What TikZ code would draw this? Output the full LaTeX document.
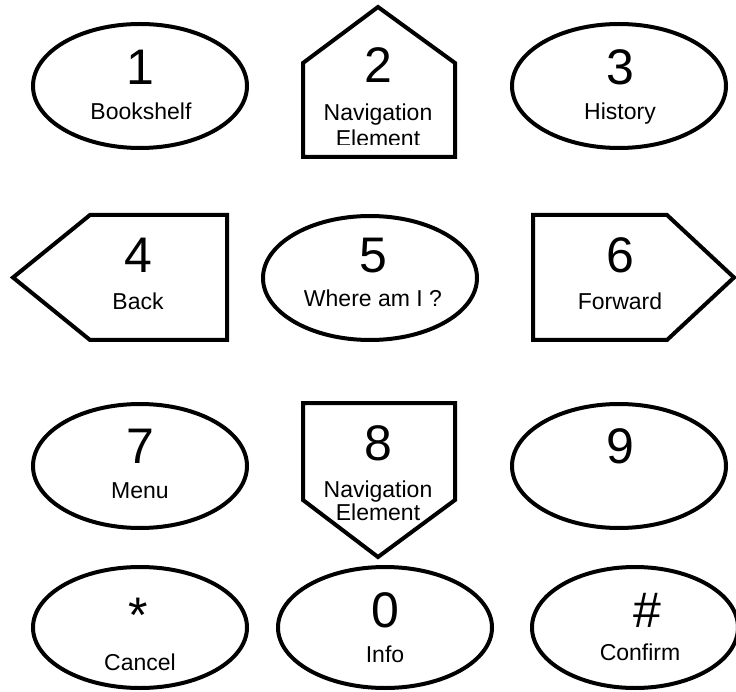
\documentclass[tikz,border=0pt]{standalone}
\usepackage{fontspec}
\setmainfont{Liberation Sans}
\usetikzlibrary{shapes.geometric}
\tikzset{
  keyoval/.style={ellipse, draw=black, line width=4pt, fill=white, inner sep=0pt, minimum width=214pt, minimum height=124pt},
  keyshape/.style={draw=black, line width=4pt, fill=white, line join=miter},
  digit/.style={anchor=base, inner sep=0pt, font=\fontsize{50}{50}\selectfont},
  keylabel/.style={anchor=base, inner sep=0pt, font=\fontsize{23}{23}\selectfont}
}
\begin{document}
\begin{tikzpicture}[x=1pt,y=-1pt]
\useasboundingbox[fill=white] (0,0) rectangle (736,692);
% row 1
\node[keyoval] (k1) at (140,86) {};
\node[digit] (d1) at (140,85) {1};
\node[keylabel] (l1) at (141,120) {Bookshelf};
\draw[keyshape] (303,157) -- (303,63) -- (378,7) -- (455,63) -- (455,157) -- cycle;
\node[digit] (d2) at (378,83) {2};
\node[keylabel] (l2) at (378,121) {Navigation};
\begin{scope}
\clip (300,0) rectangle (460,144.5);
\node[keylabel] (l2b) at (378,147) {Element};
\end{scope}
\node[keyoval] (k3) at (619,86) {};
\node[digit] (d3) at (620,85) {3};
\node[keylabel] (l3) at (620,120) {History};
% row 2
\draw[keyshape] (13,277.5) -- (90,215) -- (227,215) -- (227,340) -- (90,340) -- cycle;
\node[digit] (d4) at (138,273) {4};
\node[keylabel] (l4) at (138,310) {Back};
\node[keyoval] (k5) at (370,278) {};
\node[digit] (d5) at (373,273) {5};
\node[keylabel] (l5) at (373,307) {Where am I ?};
\draw[keyshape] (533,215) -- (667,215) -- (734,277.5) -- (667,340) -- (533,340) -- cycle;
\node[digit] (d6) at (620,273) {6};
\node[keylabel] (l6) at (620,310) {Forward};
% row 3
\node[keyoval] (k7) at (140,466) {};
\node[digit] (d7) at (140,463) {7};
\node[keylabel] (l7) at (140,498) {Menu};
\draw[keyshape] (303,403) -- (455,403) -- (455,500) -- (378,557) -- (303,500) -- cycle;
\node[digit] (d8) at (378,460) {8};
\node[keylabel] (l8) at (378,497) {Navigation};
\node[keylabel] (l8b) at (378,520) {Element};
\node[keyoval] (k9) at (619,466) {};
\node[digit] (d9) at (620,463) {9};
% row 4
\node[keyoval, minimum height=121pt] (ks) at (140,627.5) {};
\node[digit] (ds) at (138,632) {*};
\node[keylabel] (ls) at (140,670) {Cancel};
\node[keyoval, minimum height=121pt] (k0) at (385,627.5) {};
\node[digit] (d0) at (385,627) {0};
\node[keylabel] (l0) at (385,662) {Info};
\node[keyoval, minimum height=121pt, minimum width=206pt] (kh) at (635,627.5) {};
\node[digit] (dh) at (647,627) {\#};
\node[keylabel] (lh) at (640,660) {Confirm};
\end{tikzpicture}
\end{document}
